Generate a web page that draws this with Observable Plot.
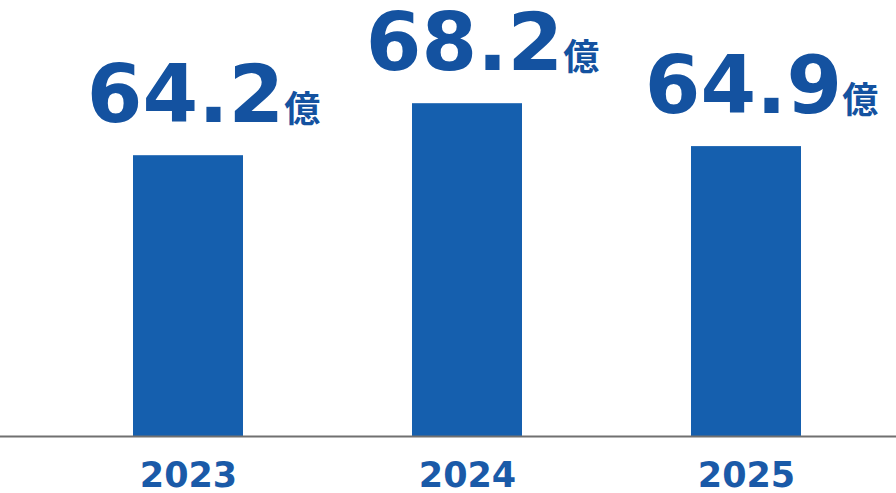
<!DOCTYPE html>
<html><head><meta charset="utf-8">
<script src="https://cdn.jsdelivr.net/npm/d3@7"></script>
<script src="https://cdn.jsdelivr.net/npm/@observablehq/plot@0.6"></script>
<style>
html,body{margin:0;padding:0;background:#fff;}
#chart svg{display:block;}
</style>
</head><body><div id="chart"></div>
<script>
const years = ["2023", "2024", "2025"];
const values = [64.2, 68.2, 64.9];
const unit = "億";
const yBase = 42.6;

const data = years.map((y, i) => ({year: y, value: values[i]}));

const plot = Plot.plot({
  width: 896,
  height: 493,
  marginTop: 0,
  marginLeft: 0,
  marginRight: 0,
  marginBottom: 57,
  style: {background: "#fff", fontFamily: "'DejaVu Sans', sans-serif"},
  x: {domain: years, range: [38, 896], paddingInner: 0.606, paddingOuter: 0.34, label: null},
  y: {domain: [yBase, yBase + 436 / 13], clamp: true, axis: null},
  marks: [
    Plot.barY(data, {x: "year", y1: yBase, y2: "value", fill: "#155fae"}),
    Plot.ruleY([yBase], {stroke: "#707070", strokeWidth: 2}),
    Plot.text(data, {
      x: "year", y: "value", text: d => d.value.toFixed(1),
      lineAnchor: "bottom", dy: -33.4, dx: 15,
      fill: "#1452a0", fontSize: 80, fontWeight: "bold",
      fontFamily: "'DejaVu Sans', sans-serif", className: "vlabel"
    }),
    Plot.axisX({
      tickSize: 0, tickPadding: 26, fontSize: 35, fontWeight: "bold",
      fill: "#1a5aa8", label: null, fontFamily: "'DejaVu Sans', sans-serif"
    })
  ]
});

d3.select(plot).selectAll(".vlabel text").each(function() {
  d3.select(this).append("tspan")
    .attr("font-size", 36)
    .attr("font-family", "'Noto Sans CJK JP', sans-serif")
    .attr("font-weight", "bold")
    .text(unit);
});

document.getElementById("chart").appendChild(plot);
</script>
</body></html>
